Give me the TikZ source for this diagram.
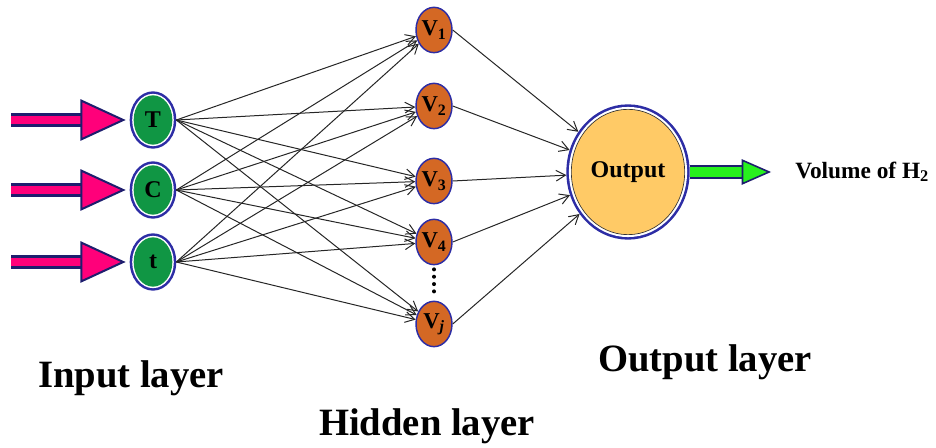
\documentclass[tikz,border=0pt]{standalone}
\usepackage{fontspec}
\setmainfont{Liberation Serif}
\usetikzlibrary{arrows.meta,positioning,shapes.geometric}
\definecolor{ringblue}{RGB}{45,45,165}
\definecolor{navy}{RGB}{30,30,110}
\definecolor{ingreen}{RGB}{16,150,68}
\definecolor{hidorange}{RGB}{212,104,36}
\definecolor{outyellow}{RGB}{255,202,102}
\definecolor{hotpink}{RGB}{255,0,122}
\definecolor{limegreen}{RGB}{40,240,30}
\begin{document}
\begin{tikzpicture}[x=.75pt,y=-.75pt,
 innode/.style={ellipse,inner sep=0pt,minimum width=29pt,minimum height=37pt,fill=ingreen,outer sep=3pt,font=\bfseries\fontsize{18}{18}\selectfont,preaction={draw=ringblue,line width=6pt},preaction={draw=white,line width=2.2pt}},
 hidnode/.style={ellipse,inner sep=0pt,minimum width=27pt,minimum height=34pt,fill=hidorange,draw=ringblue,line width=1.1pt,font=\bfseries\fontsize{17}{17}\selectfont},
 outnode/.style={ellipse,inner sep=0pt,minimum width=85pt,minimum height=94pt,fill=outyellow,draw=black!80,line width=.5pt,outer sep=3.8pt,preaction={draw=ringblue,line width=7.5pt},preaction={draw=white,line width=3.6pt},font=\bfseries\fontsize{18}{18}\selectfont},
 edge/.style={-{Straight Barb[length=7pt,width=8pt]},line width=.75pt,draw=black!85},
 fatpink/.style={line width=6.5pt,draw=hotpink,-{Triangle[length=34pt,width=31pt,fill=hotpink,color=navy,line width=1.5pt]},preaction={draw=navy,line width=10pt,-,shorten >=33pt}},
 fatgreen/.style={line width=7.5pt,draw=limegreen,-{Triangle[length=22pt,width=19pt,fill=limegreen,color=navy,line width=1.2pt]},preaction={draw=navy,line width=10pt,-,shorten >=21pt}},
 dots/.style={line width=3pt,line cap=round,dash pattern=on 0pt off 5.5pt,shorten <=3pt,shorten >=3pt},
 lbl/.style={inner sep=0pt,anchor=base,font=\bfseries\fontsize{29}{29}\selectfont}]
\useasboundingbox (0,0) rectangle (936,448);
% input layer
\node[innode] (T) at (153,120) {T};
\node[innode] (C) at (153,190) {C};
\node[innode] (t) at (153,262) {t};
\coordinate[left=89pt of T] (srcT);
\coordinate[left=89pt of C] (srcC);
\coordinate[left=89pt of t] (srct);
\draw[fatpink,shorten >=3pt] (srcT) -- (T.west);
\draw[fatpink,shorten >=3pt] (srcC) -- (C.west);
\draw[fatpink,shorten >=3pt] (srct) -- (t.west);
% hidden layer
\node[hidnode] (V1) at (434,30) {V\textsubscript{1}};
\node[hidnode] (V2) at (434,106) {V\textsubscript{2}};
\node[hidnode] (V3) at (434,181) {V\textsubscript{3}};
\node[hidnode] (V4) at (434,242) {V\textsubscript{4}};
\node[hidnode] (Vj) at (434,324) {V\textsubscript{\textit{j}}};
\draw[dots] (V4) -- (Vj);
% output layer
\node[outnode] (out) at (628,172) {Output};
\coordinate[right=61pt of out] (res);
\draw[fatgreen] (out.east) -- (res);
\node[right=18pt of res,font=\bfseries\fontsize{17.5}{17.5}\selectfont,inner sep=0pt] (vol) {Volume of H\textsubscript{2}};
\foreach \i in {T,C,t} \foreach \h in {V1,V2,V3,V4,Vj} \draw[edge] (\i.east) -- (\h);
\foreach \h in {V1,V2,V3,V4,Vj} \draw[edge] (\h.east) -- (out);
\node[lbl] (inlab) at (131,388) {Input layer};
\node[lbl] (hidlab) at (427,436) {Hidden layer};
\node[lbl] (outlab) at (705,372) {Output layer};
\end{tikzpicture}
\end{document}
